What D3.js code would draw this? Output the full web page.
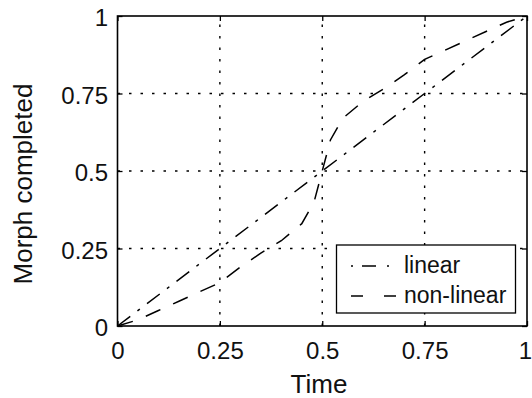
<!DOCTYPE html>
<html><head><meta charset="utf-8">
<script src="https://cdn.jsdelivr.net/npm/d3@7"></script>
<style>
html,body{margin:0;padding:0;background:#fff;}
svg text{font-family:"Liberation Sans",Arial,Helvetica,sans-serif;fill:#111;}
</style></head>
<body><svg id="c" width="532" height="398"></svg>
<script>
const xTicks = [0, 0.25, 0.5, 0.75, 1];
const yTicks = [0, 0.25, 0.5, 0.75, 1];
const tickLabels = ["0", "0.25", "0.5", "0.75", "1"];
const linearX = [0, 1];
const linearY = [0, 1];
const nonlinearX = [0, 0.05, 0.1, 0.15, 0.2, 0.25, 0.3, 0.35, 0.4, 0.45, 0.48, 0.5, 0.52, 0.55, 0.6, 0.65, 0.7, 0.75, 0.8, 0.85, 0.9, 0.95, 1];
const nonlinearY = [0, 0.02, 0.05, 0.08, 0.11, 0.14, 0.19, 0.235, 0.275, 0.33, 0.40, 0.5, 0.60, 0.67, 0.725, 0.765, 0.81, 0.86, 0.89, 0.92, 0.95, 0.98, 1];
const seriesNames = ["linear", "non-linear"];

const L = 117.5, R = 527, T = 16, B = 326;
const svg = d3.select("#c");
const x = d3.scaleLinear().domain([0, 1]).range([L, R]);
const y = d3.scaleLinear().domain([0, 1]).range([B, T]);
const fmt = (d) => tickLabels[xTicks.indexOf(d)];

// grid
const grid = svg.append("g").attr("stroke", "#000").attr("stroke-width", 1.4).attr("stroke-dasharray", "2.5,9");
xTicks.slice(1, -1).forEach(t => grid.append("line").attr("x1", x(t)).attr("x2", x(t)).attr("y1", B).attr("y2", T));
yTicks.slice(1, -1).forEach(t => grid.append("line").attr("y1", y(t)).attr("y2", y(t)).attr("x1", L).attr("x2", R));

// axes
const fsTick = 24, fsLab = 26, fsLeg = 23;
const gb = svg.append("g").attr("transform", `translate(0,${B})`)
  .call(d3.axisBottom(x).tickValues(xTicks).tickFormat(fmt).tickSizeInner(-5).tickSizeOuter(0).tickPadding(16));
const gt = svg.append("g").attr("transform", `translate(0,${T})`)
  .call(d3.axisTop(x).tickValues(xTicks).tickFormat("").tickSizeInner(-5).tickSizeOuter(0));
const gl = svg.append("g").attr("transform", `translate(${L},0)`)
  .call(d3.axisLeft(y).tickValues(yTicks).tickFormat(fmt).tickSizeInner(-5).tickSizeOuter(0).tickPadding(9.5));
const gr = svg.append("g").attr("transform", `translate(${R},0)`)
  .call(d3.axisRight(y).tickValues(yTicks).tickFormat("").tickSizeInner(-5).tickSizeOuter(0));
[gb, gt, gl, gr].forEach(g => {
  g.select(".domain").remove();
  g.selectAll("line").attr("stroke", "#000").attr("stroke-width", 1.3);
  g.selectAll("text").style("font-size", fsTick + "px").attr("fill", "#111");
});
gb.selectAll("text").attr("dy", "0.71em").attr("dx", d => d === 1 ? -2 : 0);
gl.selectAll("text").attr("dy", "0.4em");
svg.append("rect").attr("x", L).attr("y", T).attr("width", R - L).attr("height", B - T)
  .attr("fill", "none").attr("stroke", "#000").attr("stroke-width", 1.6);

// lines
const line = d3.line().x(d => x(d[0])).y(d => y(d[1]));
svg.append("path").datum(linearX.map((v, i) => [v, linearY[i]])).attr("d", line)
  .attr("fill", "none").attr("stroke", "#000").attr("stroke-width", 1.5).attr("stroke-dasharray", "16,9,3,9");
svg.append("path").datum(nonlinearX.map((v, i) => [v, nonlinearY[i]])).attr("d", line)
  .attr("fill", "none").attr("stroke", "#000").attr("stroke-width", 1.5).attr("stroke-dasharray", "16,14");

// labels
svg.append("text").attr("x", 319).attr("y", 393).attr("text-anchor", "middle")
  .style("font-size", fsLab + "px").text("Time");
svg.append("text").attr("transform", `translate(32,184) rotate(-90)`).attr("text-anchor", "middle")
  .style("font-size", fsLab + "px").text("Morph completed");

// legend
const lg = svg.append("g");
lg.append("rect").attr("x", 336.5).attr("y", 245).attr("width", 179).attr("height", 68)
  .attr("fill", "#fff").attr("stroke", "#000").attr("stroke-width", 1.3);
const dashes = ["2,9,14,11", "12,21"];
const lens = [40, 46];
const rowY = [266, 296];
seriesNames.forEach((n, i) => {
  const yy = rowY[i];
  lg.append("line").attr("x1", 351).attr("x2", 351 + lens[i]).attr("y1", yy).attr("y2", yy)
    .attr("stroke", "#000").attr("stroke-width", 1.5).attr("stroke-dasharray", dashes[i]);
  lg.append("text").attr("x", 404).attr("y", yy + 6.5).style("font-size", fsLeg + "px").text(n);
});
</script></body></html>
